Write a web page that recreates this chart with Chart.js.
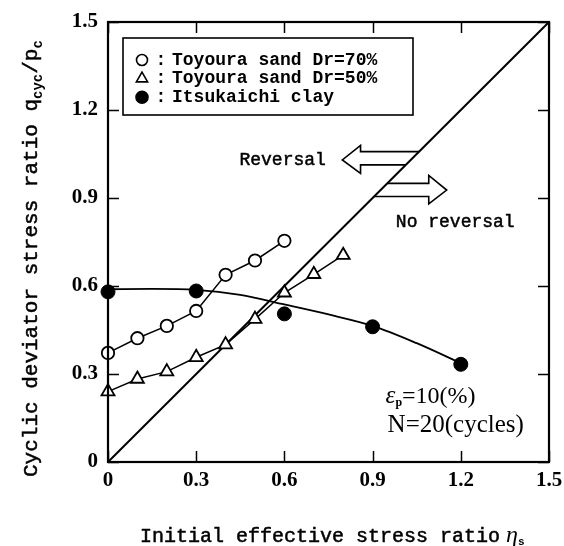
<!DOCTYPE html>
<html>
<head>
<meta charset="utf-8">
<script src="https://cdn.jsdelivr.net/npm/chart.js@4"></script>
<style>
  html, body { margin: 0; padding: 0; background: #fff; }
  #wrap { width: 564px; height: 546px; }
</style>
</head>
<body>
<div id="wrap"><canvas id="chart" width="564" height="546"></canvas></div>
<script>
// Axis ticks
const xTickValues = [0, 0.3, 0.6, 0.9, 1.2, 1.5];
const xTickLabels = ['0', '0.3', '0.6', '0.9', '1.2', '1.5'];
const yTickValues = [0, 0.3, 0.6, 0.9, 1.2, 1.5];
const yTickLabels = ['0', '0.3', '0.6', '0.9', '1.2', '1.5'];

// Toyoura sand, Dr = 70%
const etaDr70 = [0, 0.1, 0.2, 0.3, 0.4, 0.5, 0.6];
const qDr70   = [0.372, 0.422, 0.464, 0.515, 0.638, 0.687, 0.754];

// Toyoura sand, Dr = 50%
const etaDr50 = [0, 0.1, 0.2, 0.3, 0.4, 0.5, 0.6, 0.7, 0.8];
const qDr50   = [0.240, 0.283, 0.308, 0.357, 0.400, 0.487, 0.577, 0.640, 0.705];

// Itsukaichi clay, measured points
const etaClay = [0, 0.3, 0.6, 0.9, 1.2];
const qClay   = [0.580, 0.583, 0.505, 0.461, 0.333];

// Itsukaichi clay, fitted trend curve
const etaClayFit = [0, 0.15, 0.3, 0.45, 0.6, 0.75, 0.9, 1.05, 1.2];
const qClayFit   = [0.589, 0.590, 0.587, 0.570, 0.537, 0.503, 0.464, 0.405, 0.337];

// Boundary line q/p = eta
const etaBoundary = [0, 1.5];
const qBoundary   = [0, 1.5];

// Hollow arrows either side of the boundary (outline vertices)
const reversalArrowX   = [1.058, 0.859, 0.859, 0.797, 0.859, 0.859, 1.013];
const reversalArrowY   = [1.058, 1.058, 1.079, 1.030, 0.984, 1.013, 1.013];
const noReversalArrowX = [0.950, 1.091, 1.091, 1.152, 1.091, 1.091, 0.905];
const noReversalArrowY = [0.950, 0.950, 0.977, 0.927, 0.880, 0.905, 0.905];

const pts = (xs, ys) => xs.map((x, i) => ({ x: x, y: ys[i] }));

const MONO = '"Liberation Mono", "DejaVu Sans Mono", monospace';
const SERIF = '"Liberation Serif", "DejaVu Serif", serif';

// filled text with a hairline outline so the thin mono face reads a little heavier
function heavyText(ctx, s, x, y, w) {
  ctx.fillText(s, x, y);
  ctx.save();
  ctx.lineWidth = w || 0.5;
  ctx.strokeStyle = '#000';
  ctx.strokeText(s, x, y);
  ctx.restore();
}

// Frame, inward tick marks, titles, annotations and the key box
const decorations = {
  id: 'decorations',
  afterDraw(chart) {
    const ctx = chart.ctx;
    const a = chart.chartArea;
    const xs = chart.scales.x, ys = chart.scales.y;
    ctx.save();
    ctx.strokeStyle = '#000';
    ctx.fillStyle = '#000';

    // plot frame
    ctx.lineWidth = 2.2;
    ctx.strokeRect(a.left, a.top, a.right - a.left, a.bottom - a.top);

    // inward ticks on all four sides
    const tl = 11;
    ctx.lineWidth = 1.5;
    ctx.beginPath();
    xTickValues.forEach(v => {
      const px = Math.round(xs.getPixelForValue(v)) + 0.5;
      ctx.moveTo(px, a.bottom); ctx.lineTo(px, a.bottom - tl);
      ctx.moveTo(px, a.top); ctx.lineTo(px, a.top + tl);
    });
    yTickValues.forEach(v => {
      const py = Math.round(ys.getPixelForValue(v)) + 0.5;
      ctx.moveTo(a.left, py); ctx.lineTo(a.left + tl, py);
      ctx.moveTo(a.right, py); ctx.lineTo(a.right - tl, py);
    });
    ctx.stroke();

    // x axis title
    ctx.textBaseline = 'alphabetic';
    ctx.textAlign = 'left';
    let tx = 140;
    ctx.font = '20px ' + MONO;
    const xt = 'Initial effective stress ratio';
    heavyText(ctx, xt, tx, 542);
    tx += ctx.measureText(xt).width + 6;
    ctx.font = 'italic 24px ' + SERIF;
    ctx.fillText('\u03B7', tx, 542);
    tx += ctx.measureText('\u03B7').width;
    ctx.font = 'bold 11px ' + MONO;
    ctx.fillText('s', tx, 545);

    // y axis title (rotated)
    ctx.save();
    ctx.translate(37, 477);
    ctx.rotate(-Math.PI / 2);
    let ty = 0;
    ctx.font = '21px ' + MONO;
    const yt = 'Cyclic deviator stress ratio q';
    heavyText(ctx, yt, ty, 0);
    ty += ctx.measureText(yt).width;
    ctx.font = 'bold 14px ' + MONO;
    ctx.fillText('cyc', ty, 5);
    ty += ctx.measureText('cyc').width;
    ctx.font = '21px ' + MONO;
    heavyText(ctx, '/p', ty, 0);
    ty += ctx.measureText('/p').width;
    ctx.font = 'bold 14px ' + MONO;
    ctx.fillText('c', ty, 5);
    ctx.restore();

    // region labels
    ctx.textBaseline = 'middle';
    ctx.font = '18px ' + MONO;
    heavyText(ctx, 'Reversal', xs.getPixelForValue(0.447), ys.getPixelForValue(1.030));
    heavyText(ctx, 'No reversal', xs.getPixelForValue(0.979), ys.getPixelForValue(0.816));

    // test condition note
    let nx = xs.getPixelForValue(0.944);
    const ny = ys.getPixelForValue(0.223);
    ctx.font = 'italic 25px ' + SERIF;
    ctx.fillText('\u03B5', nx, ny);
    nx += ctx.measureText('\u03B5').width;
    ctx.font = 'bold 12px ' + SERIF;
    ctx.fillText('p', nx, ny + 6);
    nx += ctx.measureText('p').width;
    ctx.font = '24px ' + SERIF;
    ctx.fillText('=10(%)', nx, ny);
    ctx.font = '25px ' + SERIF;
    ctx.fillText('N=20(cycles)', xs.getPixelForValue(0.951), ys.getPixelForValue(0.126));

    // key box
    const bx = a.left + 15, by = a.top + 16, bw = 290, bh = 77;
    ctx.fillStyle = '#fff';
    ctx.fillRect(bx, by, bw, bh);
    ctx.lineWidth = 1.6;
    ctx.strokeRect(bx, by, bw, bh);
    ctx.fillStyle = '#000';
    const keyRows = [
      { style: 'circle', r: 5.5, fill: '#fff', text: 'Toyoura sand Dr=70%' },
      { style: 'triangle', r: 6.5, fill: '#fff', text: 'Toyoura sand Dr=50%' },
      { style: 'circle', r: 6, fill: '#000', text: 'Itsukaichi clay' }
    ];
    keyRows.forEach((row, i) => {
      const cy = by + 22 + i * 18.6;
      ctx.save();
      ctx.lineWidth = 1.6;
      ctx.strokeStyle = '#000';
      ctx.fillStyle = row.fill;
      Chart.helpers.drawPoint(ctx, { pointStyle: row.style, radius: row.r, borderWidth: 1.6 }, bx + 19, cy);
      ctx.restore();
      ctx.font = 'bold 18px ' + MONO;
      ctx.textAlign = 'center';
      ctx.fillText(':', bx + 38, cy);
      ctx.textAlign = 'left';
      ctx.fillText(row.text, bx + 49, cy);
    });
    ctx.restore();
  }
};

const lineBase = { showLine: true, borderColor: '#000', clip: false };

new Chart(document.getElementById('chart'), {
  type: 'scatter',
  data: {
    datasets: [
      Object.assign({}, lineBase, {
        label: 'Itsukaichi clay',
        data: pts(etaClay, qClay),
        showLine: false,
        pointStyle: 'circle', pointRadius: 7,
        pointBackgroundColor: '#000', pointBorderColor: '#000', pointBorderWidth: 1,
        order: 1
      }),
      Object.assign({}, lineBase, {
        label: 'Toyoura sand Dr=70%',
        data: pts(etaDr70, qDr70),
        borderWidth: 1.5,
        pointStyle: 'circle', pointRadius: 6.2,
        pointBackgroundColor: '#fff', pointBorderColor: '#000', pointBorderWidth: 1.8,
        order: 2
      }),
      Object.assign({}, lineBase, {
        label: 'Toyoura sand Dr=50%',
        data: pts(etaDr50, qDr50),
        borderWidth: 1.5,
        pointStyle: 'triangle', pointRadius: 7.5,
        pointBackgroundColor: '#fff', pointBorderColor: '#000', pointBorderWidth: 1.8,
        order: 3
      }),
      Object.assign({}, lineBase, {
        label: 'Clay trend',
        data: pts(etaClayFit, qClayFit),
        borderWidth: 1.8,
        pointRadius: 0,
        cubicInterpolationMode: 'monotone',
        order: 4
      }),
      Object.assign({}, lineBase, {
        label: 'Boundary',
        data: pts(etaBoundary, qBoundary),
        borderWidth: 2,
        pointRadius: 0,
        order: 5
      }),
      Object.assign({}, lineBase, {
        label: 'Reversal arrow',
        data: pts(reversalArrowX, reversalArrowY),
        borderWidth: 1.6,
        pointRadius: 0,
        order: 6
      }),
      Object.assign({}, lineBase, {
        label: 'No reversal arrow',
        data: pts(noReversalArrowX, noReversalArrowY),
        borderWidth: 1.6,
        pointRadius: 0,
        order: 7
      })
    ]
  },
  options: {
    responsive: false,
    animation: false,
    devicePixelRatio: 1,
    layout: { padding: { left: 0, top: 22, right: 15, bottom: 0 } },
    plugins: { legend: { display: false }, tooltip: { enabled: false } },
    elements: { line: { tension: 0 } },
    scales: {
      x: {
        type: 'linear', min: 0, max: 1.5,
        grid: { display: false, drawTicks: false },
        border: { display: false },
        afterBuildTicks: s => { s.ticks = xTickValues.map(v => ({ value: v })); },
        afterFit: s => { s.height = 84; s.paddingLeft = 0; s.paddingRight = 0; },
        ticks: {
          padding: 6,
          color: '#000',
          font: { family: SERIF, size: 21, weight: 'bold' },
          callback: (v, i) => xTickLabels[i]
        }
      },
      y: {
        type: 'linear', min: 0, max: 1.5,
        grid: { display: false, drawTicks: false },
        border: { display: false },
        afterBuildTicks: s => { s.ticks = yTickValues.map(v => ({ value: v })); },
        afterFit: s => { s.width = 108; s.paddingTop = 0; s.paddingBottom = 0; },
        ticks: {
          padding: 10,
          color: '#000',
          font: { family: SERIF, size: 21, weight: 'bold' },
          callback: (v, i) => yTickLabels[i]
        }
      }
    }
  },
  plugins: [decorations]
});
</script>
</body>
</html>
